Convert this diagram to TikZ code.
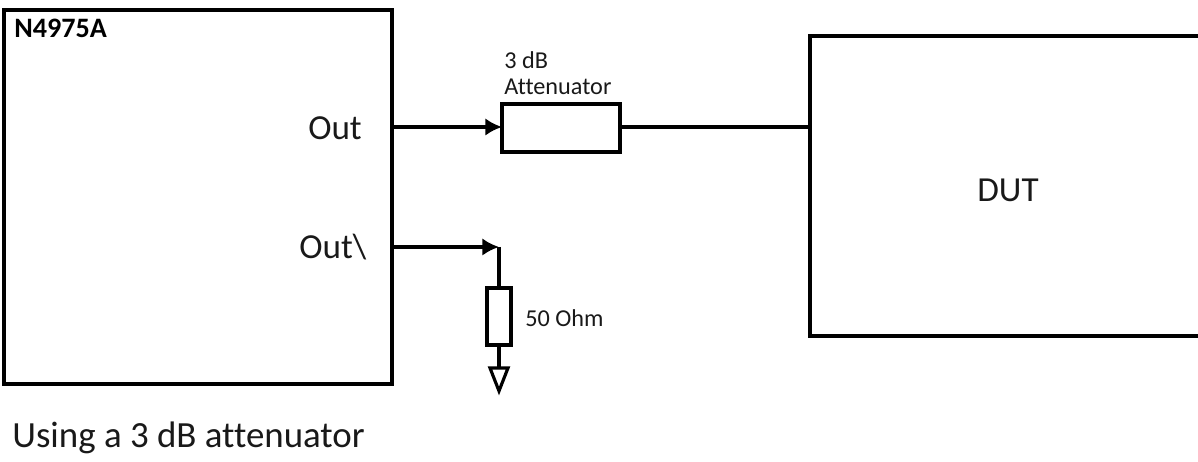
\documentclass[tikz,border=0pt]{standalone}
\usepackage{fontspec}
\setmainfont[Ligatures=NoCommon]{Carlito}
\usetikzlibrary{arrows.meta}

\tikzset{
  block/.style={draw, line width=1.8pt, inner sep=0pt, outer sep=0pt},
  wire/.style={line width=1.8pt},
  feed/.style={wire, -{Latex[length=9.5pt,width=10pt]}},
  biglabel/.style={font=\fontsize{20}{24}\selectfont, text=black!90, inner sep=0pt},
  smalllabel/.style={font=\fontsize{13.8}{17}\selectfont, text=black!90, inner sep=0pt, anchor=west},
}

\begin{document}
\begin{tikzpicture}[x=0.02cm, y=0.02cm]
\clip (0,0) rectangle (1198,462);
\node [block, minimum width=7.76cm, minimum height=7.48cm] (analyzer) at (198,265) {};
\node [block, minimum width=2.36cm, minimum height=0.96cm] (atten) at (561,334) {};
\node [block, minimum width=8.4cm, minimum height=6cm] (dut) at (1020,276) {};
\node [block, minimum width=0.48cm, minimum height=1.14cm] (load) at (499,145.5) {};
\coordinate (outp) at (392,335);
\coordinate (outn) at (392,215);
\coordinate (corner) at (499,215);
\coordinate (stem) at (499,94);
\coordinate (gndl) at (490,94);
\coordinate (gndr) at (508,94);
\coordinate (gndb) at (499,71);
\node [smalllabel, font=\fontsize{16}{17}\bfseries\selectfont, text=black] (model) at (14,434) {N4975A};
\node [biglabel] (outlabel) at (335,334) {Out};
\node [biglabel] (outnlabel) at (333,215) {Out\textbackslash};
\node [biglabel] (dutlabel) at (1008,272) {DUT};
\node [smalllabel] (attone) at (504,402) {3 dB};
\node [smalllabel] (atttwo) at (504,375) {Attenuator};
\node [smalllabel] (loadlabel) at (525,144) {50 Ohm};
\node [biglabel, anchor=west, font=\fontsize{21}{24}\selectfont] (caption) at (12,24) {Using a 3 dB attenuator};
\draw [feed] (outp) -- (atten.west |- outp);
\draw [wire] (atten.east |- outp) -- (dut.west |- outp);
\draw [feed] (outn) -- (corner);
\draw [wire] (corner) -- (load.north -| corner);
\draw [wire] (load.south -| stem) -- (stem);
\draw [wire, line join=miter] (gndl) -- (gndr) -- (gndb) -- cycle;
\end{tikzpicture}
\end{document}
